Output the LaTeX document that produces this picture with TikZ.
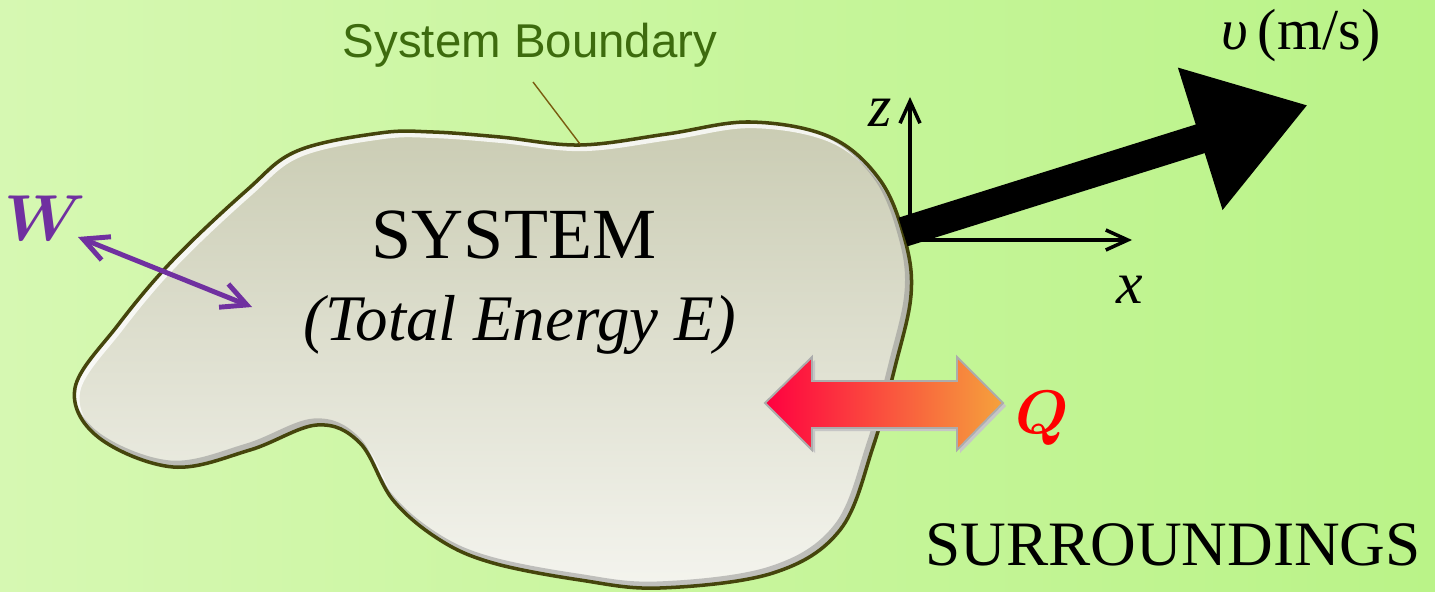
\documentclass[tikz,border=0pt]{standalone}
\usepackage{fix-cm}
\usepackage{fontspec}
\setmainfont{Liberation Serif}
\newfontfamily\labelsans{Liberation Sans}
\usetikzlibrary{positioning,calc,arrows.meta}
\definecolor{bgpale}{HTML}{D6F8B2}
\definecolor{bggreen}{HTML}{BAF388}
\definecolor{blobtop}{HTML}{CACCB3}
\definecolor{blobbot}{HTML}{F4F4EE}
\definecolor{bndolive}{HTML}{45450C}
\definecolor{bndtext}{HTML}{3D6B0E}
\definecolor{leader}{HTML}{7A5C10}
\definecolor{workpurple}{HTML}{7030A0}
\definecolor{heatred}{HTML}{FF0040}
\definecolor{heatpink}{HTML}{FF0A6A}
\definecolor{heatorange}{HTML}{F5A23C}
\tikzset{
  bigtxt/.style={font=\fontsize{41}{41}\selectfont},
  midtxt/.style={font=\fontsize{36}{36}\selectfont},
  axislbl/.style={font=\fontsize{34}{34}\selectfont\itshape},
  axis/.style={line width=2pt,line cap=round,-{Straight Barb[length=4.4mm,width=4mm]}},
  work/.style={line width=2.8pt,line cap=round,workpurple,
               {Straight Barb[length=5mm,width=5mm]}-{Straight Barb[length=5mm,width=5mm]}},
  velocity/.style={line width=0.6cm,-{Triangle[length=2.26cm,width=2.82cm]}},
}
% outline of the system, in pixel-sized units
\newcommand{\blobpath}{plot[smooth cycle,tension=0.6] coordinates {
  (75,388) (98,437) (173,467) (250,450) (317,425) (360,443) (393,500)
  (440,540) (493,563) (580,580) (660,588) (773,573) (840,530) (873,447)
  (895,367) (911,295) (905,240) (880,180) (830,137) (750,122) (667,134)
  (580,145) (500,137) (433,132) (380,133) (297,151) (247,190) (173,260) (118,325)}}

\begin{document}
\begin{tikzpicture}[x=0.02cm,y=-0.02cm]
  \useasboundingbox (0,0) rectangle (1435,591);
  \fill[left color=bgpale,right color=bggreen] (0,0) rectangle (1435,591);
  % the system: a closed blob with a dark boundary
  \shade[top color=blobtop,bottom color=blobbot] \blobpath;
  \begin{scope}
    \clip \blobpath;
    \draw[white,line width=3pt,opacity=0.8,xshift=0.05cm,yshift=-0.07cm] \blobpath;
    \draw[black!45,line width=4pt,opacity=0.5,xshift=-0.06cm,yshift=0.06cm] \blobpath;
  \end{scope}
  \draw[line width=2pt,bndolive] \blobpath;
  \node[font=\labelsans\fontsize{27}{27}\selectfont,text=bndtext] (bndlabel) at (530,45) {System Boundary};
  \coordinate (bndtop) at (533,82);
  \coordinate (bndpt) at (580,144);
  \draw[leader,line width=0.8pt] (bndtop) -- (bndpt);
  \node[bigtxt] (sysname) at (514,235) {SYSTEM};
  \node[font=\fontsize{37}{37}\selectfont\itshape] (energy) at (520,325) {(Total Energy E)};
  \node[midtxt] (surr) at (1173,545) {SURROUNDINGS};
  % work crossing the boundary
  \coordinate (wout) at (78,237);
  \coordinate (win) at (252,307);
  \draw[work] (wout) -- (win);
  \node[text=workpurple,font=\fontsize{37}{37}\selectfont\boldmath] (wlabel) at (45,218) {$W$};
  % heat crossing the boundary
  \fill[gray!45,xshift=0.06cm,yshift=-0.06cm]
    (765,403) -- (812,357) -- (812,381) -- (957,381) -- (957,357) -- (1003,403)
    -- (957,450) -- (957,428) -- (812,428) -- (812,450) -- cycle;
  \draw[line width=1.1pt,draw=gray!65,left color=heatred,middle color=heatpink,right color=heatorange]
    (765,403) -- (812,357) -- (812,381) -- (957,381) -- (957,357) -- (1003,403)
    -- (957,450) -- (957,428) -- (812,428) -- (812,450) -- cycle;
  \node[text=red,font=\fontsize{35}{35}\selectfont\boldmath] (qlabel) at (1042,418) {$Q$};
  % axes and velocity
  \coordinate (O) at (910,240);
  \coordinate (ztip) at (910,97);
  \coordinate (xtip) at (1132,240);
  \draw[axis] (O) -- (ztip);
  \draw[axis] (O) -- (xtip);
  \node[axislbl] (zlabel) at (880,113) {z};
  \node[axislbl] (xlabel) at (1130,290) {x};
  \coordinate (vstart) at (903,232);
  \coordinate (vtip) at (1308,105);
  \draw[velocity] (vstart) -- (vtip);
  \node[font=\fontsize{33}{33}\selectfont] (vlabel) at (1301,36) {\textit{υ}\,(m/s)};
\end{tikzpicture}
\end{document}
